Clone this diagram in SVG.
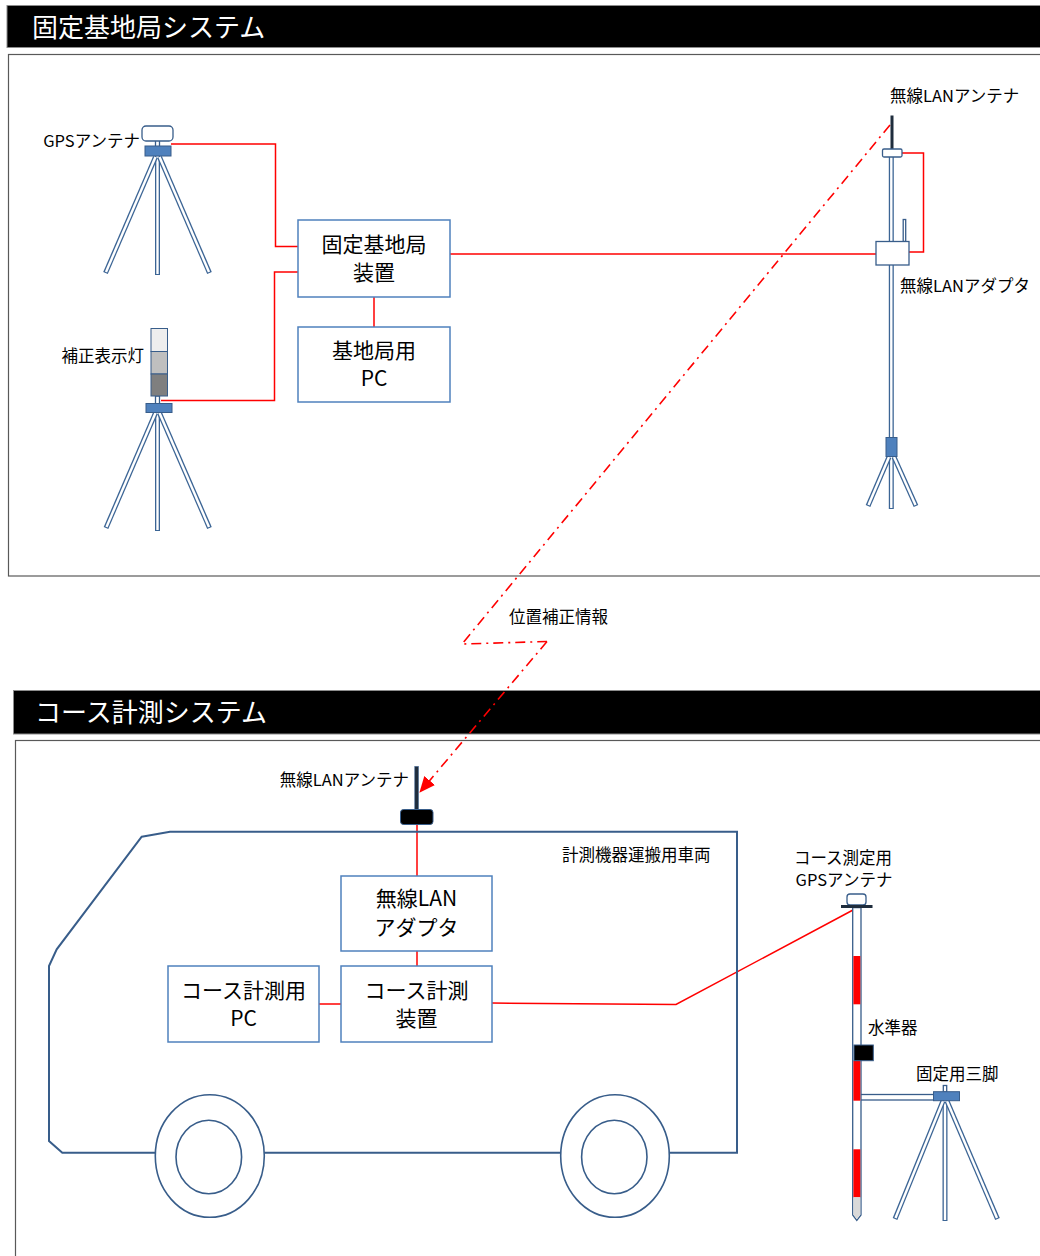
<svg xmlns="http://www.w3.org/2000/svg" width="1040" height="1256" viewBox="0 0 1040 1256">
  <defs>
    <style>
      text { font-family: "Noto Sans CJK JP", "Liberation Sans", sans-serif; fill: #000; }
      .hdr { fill: #000; stroke: #8c8c8c; stroke-width: 1; }
      .hdr-t { fill: #fff; font-size: 26px; }
      .frame { fill: none; stroke: #595959; stroke-width: 1.2; }
      .box { fill: #fff; stroke: #4f81bd; stroke-width: 1.5; }
      .box-t { font-size: 21px; text-anchor: middle; }
      .lbl { font-size: 16.5px; }
      .wire { fill: none; stroke: #ff0000; stroke-width: 1.5; }
      .radio { fill: none; stroke: #ff0000; stroke-width: 1.6; stroke-dasharray: 10 5 2 5; }
      .leg-o { stroke: #3c6595; stroke-width: 5; fill: none; }
      .leg-i { stroke: #fff; stroke-width: 2.4; fill: none; }
      .plate { fill: #4f81bd; stroke: #385d8a; stroke-width: 1; }
      .part { fill: #fff; stroke: #385d8a; stroke-width: 1.3; }
      .van { fill: none; stroke: #385d8a; stroke-width: 2; }
      .wheel { fill: #fff; stroke: #385d8a; stroke-width: 1.6; }
    </style>
    <marker id="arrowRed" viewBox="0 0 16 14" refX="15" refY="7" markerWidth="16" markerHeight="14" markerUnits="userSpaceOnUse" orient="auto">
      <path d="M0,0 L16,7 L0,14 Z" fill="#ff0000"/>
    </marker>
  </defs>

  <!-- ===== Fixed base station section ===== -->
  <g id="header-base">
    <rect class="hdr" x="7" y="5.5" width="1040" height="42"/>
    <text class="hdr-t" x="32" y="37">固定基地局システム</text>
  </g>
  <rect id="frame-base" class="frame" x="8.5" y="54.5" width="1040" height="521.5"/>

  <!-- ===== Course measurement section ===== -->
  <g id="header-course">
    <rect class="hdr" x="13.5" y="690.5" width="1040" height="43.5"/>
    <text class="hdr-t" x="35" y="722">コース計測システム</text>
  </g>
  <rect id="frame-course" class="frame" x="15.5" y="740.5" width="1040" height="600"/>

  <!-- ===== Connectors ===== -->
  <g id="connectors">
    <!-- GPS antenna -> base station unit -->
    <polyline class="wire" points="171,144 275.5,144 275.5,246.5 298,246.5"/>
    <!-- correction lamp -> base station unit -->
    <polyline class="wire" points="161,400.5 274.5,400.5 274.5,272 298,272"/>
    <!-- base station unit -> base PC -->
    <line class="wire" x1="374" y1="297" x2="374" y2="327"/>
    <!-- base station unit -> wireless LAN adapter -->
    <line class="wire" x1="450" y1="254" x2="876" y2="254"/>
    <!-- wireless LAN antenna -> adapter -->
    <polyline class="wire" points="902,153 923.5,153 923.5,252 909,252"/>
    <!-- vehicle antenna -> wireless LAN adapter -->
    <line class="wire" x1="417" y1="824" x2="417" y2="876"/>
    <!-- adapter -> measurement unit -->
    <line class="wire" x1="417" y1="951" x2="417" y2="966"/>
    <!-- PC -> measurement unit -->
    <line class="wire" x1="319" y1="1004" x2="341" y2="1004"/>
    <!-- measurement unit -> course GPS antenna -->
    <polyline class="wire" points="492,1003 676,1004.5 853,910"/>
    <!-- radio link: position correction data -->
    <polyline class="radio" points="890,125 462,644 547,641.5"/>
    <line class="radio" x1="547" y1="641.5" x2="420" y2="792" marker-end="url(#arrowRed)"/>
  </g>

  <!-- ===== Base station equipment ===== -->
  <g id="gps-antenna-tripod">
    <line class="leg-o" x1="157.5" y1="156" x2="157.5" y2="275"/>
    <line class="leg-i" x1="157.5" y1="156" x2="157.5" y2="274"/>
    <line class="leg-o" x1="155.5" y1="157" x2="105.5" y2="273"/>
    <line class="leg-i" x1="155.5" y1="157" x2="106" y2="272"/>
    <line class="leg-o" x1="159.5" y1="157" x2="209.5" y2="273"/>
    <line class="leg-i" x1="159.5" y1="157" x2="209" y2="272"/>
    <rect class="part" x="155.5" y="140" width="4" height="7"/>
    <rect class="part" x="142" y="126" width="31" height="15" rx="4"/>
    <rect class="plate" x="145" y="146" width="26" height="10"/>
    <text class="lbl" x="140" y="147" text-anchor="end">GPSアンテナ</text>
  </g>

  <g id="correction-lamp-tripod">
    <line class="leg-o" x1="157.5" y1="412" x2="157.5" y2="531"/>
    <line class="leg-i" x1="157.5" y1="412" x2="157.5" y2="530"/>
    <line class="leg-o" x1="155.5" y1="413" x2="106" y2="528"/>
    <line class="leg-i" x1="155.5" y1="413" x2="106.5" y2="527"/>
    <line class="leg-o" x1="159.5" y1="413" x2="209.5" y2="528"/>
    <line class="leg-i" x1="159.5" y1="413" x2="209" y2="527"/>
    <rect class="part" x="155.5" y="396" width="4" height="8"/>
    <rect x="151" y="328.5" width="16.5" height="23" fill="#eeeeee" stroke="#385d8a" stroke-width="1"/>
    <rect x="151" y="351.5" width="16.5" height="22.5" fill="#bfbfbf" stroke="#385d8a" stroke-width="1"/>
    <rect x="151" y="374" width="16.5" height="22" fill="#7f7f7f" stroke="#385d8a" stroke-width="1"/>
    <rect class="plate" x="146" y="403.5" width="26" height="9"/>
    <text class="lbl" x="144" y="362" text-anchor="end">補正表示灯</text>
  </g>

  <g id="base-station-unit">
    <rect class="box" x="298" y="220" width="152" height="77"/>
    <text class="box-t" x="374" y="252">固定基地局</text>
    <text class="box-t" x="374" y="280">装置</text>
  </g>

  <g id="base-pc">
    <rect class="box" x="298" y="327" width="152" height="75"/>
    <text class="box-t" x="374" y="358">基地局用</text>
    <text class="box-t" x="374" y="386">PC</text>
  </g>

  <g id="wireless-lan-mast">
    <!-- mast -->
    <line class="leg-o" x1="891.3" y1="157" x2="891.3" y2="438"/>
    <line class="leg-i" x1="891.3" y1="157" x2="891.3" y2="438"/>
    <!-- tripod -->
    <line class="leg-o" x1="891.3" y1="456" x2="891.3" y2="509"/>
    <line class="leg-i" x1="891.3" y1="456" x2="891.3" y2="508"/>
    <line class="leg-o" x1="889" y1="457" x2="868" y2="506"/>
    <line class="leg-i" x1="889" y1="457" x2="868.5" y2="505"/>
    <line class="leg-o" x1="894" y1="457" x2="916" y2="506"/>
    <line class="leg-i" x1="894" y1="457" x2="915.5" y2="505"/>
    <rect class="plate" x="886" y="437.5" width="11" height="19"/>
    <!-- antenna -->
    <rect x="890.5" y="115.5" width="3" height="34" fill="#1f2d3d"/>
    <rect class="part" x="882.5" y="149" width="19.5" height="8" rx="1.5"/>
    <text class="lbl" x="890" y="102">無線LANアンテナ</text>
  </g>

  <g id="wireless-lan-adapter">
    <rect class="part" x="903.2" y="219.5" width="2.5" height="22"/>
    <rect class="part" x="876" y="241.5" width="33" height="23.5"/>
    <text class="lbl" x="900" y="292">無線LANアダプタ</text>
  </g>

  <!-- ===== Course measurement equipment ===== -->
  <g id="vehicle">
    <path class="van" d="M141.7,836.7 L170,831.7 L737,831.7 L737,1152.7 L62.3,1152.7 L49,1141 L49,966 L56.7,949.3 Z"/>
    <ellipse class="wheel" cx="209.8" cy="1156" rx="54.5" ry="61.3"/>
    <ellipse class="wheel" cx="208.8" cy="1157" rx="32.8" ry="36.8"/>
    <ellipse class="wheel" cx="615" cy="1156" rx="54.3" ry="61.3"/>
    <ellipse class="wheel" cx="614.3" cy="1157" rx="32.7" ry="36.8"/>
    <text class="lbl" x="562" y="861">計測機器運搬用車両</text>
  </g>

  <g id="vehicle-antenna">
    <rect x="414.8" y="766.5" width="3.6" height="44" fill="#1f2d3d" stroke="#385d8a" stroke-width="0.6"/>
    <rect x="400.5" y="809.5" width="32.5" height="15" rx="3" fill="#000" stroke="#385d8a" stroke-width="1"/>
    <text class="lbl" x="409" y="786" text-anchor="end">無線LANアンテナ</text>
  </g>

  <g id="vehicle-lan-adapter">
    <rect class="box" x="341" y="876" width="151" height="75"/>
    <text class="box-t" x="416.5" y="906">無線LAN</text>
    <text class="box-t" x="416.5" y="935">アダプタ</text>
  </g>

  <g id="course-pc">
    <rect class="box" x="168" y="966" width="151" height="76"/>
    <text class="box-t" x="243.5" y="998">コース計測用</text>
    <text class="box-t" x="243.5" y="1026">PC</text>
  </g>

  <g id="course-unit">
    <rect class="box" x="341" y="966" width="151" height="76"/>
    <text class="box-t" x="416.5" y="998">コース計測</text>
    <text class="box-t" x="416.5" y="1026">装置</text>
  </g>

  <g id="fixing-tripod">
    <line class="leg-o" x1="945" y1="1100" x2="945" y2="1221"/>
    <line class="leg-i" x1="945" y1="1100" x2="945" y2="1220"/>
    <line class="leg-o" x1="943" y1="1101" x2="895" y2="1219"/>
    <line class="leg-i" x1="943" y1="1101" x2="895.5" y2="1218"/>
    <line class="leg-o" x1="947" y1="1101" x2="997.5" y2="1219"/>
    <line class="leg-i" x1="947" y1="1101" x2="997" y2="1218"/>
    <!-- arm to the pole -->
    <rect class="part" x="860" y="1094.5" width="74" height="5.5"/>
    <rect class="part" x="943.3" y="1085.5" width="3.4" height="6.5"/>
    <rect class="plate" x="933.5" y="1091.7" width="26" height="9"/>
    <text class="lbl" x="916" y="1080">固定用三脚</text>
  </g>

  <g id="course-gps-pole">
    <path class="part" d="M852.7,907.5 L861,907.5 L861,1215 L856.8,1220.5 L852.7,1215 Z"/>
    <rect x="853.4" y="956" width="6.9" height="48.3" fill="#ff0000"/>
    <rect x="853.4" y="1060.7" width="6.9" height="40" fill="#ff0000"/>
    <rect x="853.4" y="1149.3" width="6.9" height="48" fill="#ff0000"/>
    <path d="M853.4,1197.3 L860.3,1197.3 L860.3,1214.6 L856.8,1219.3 L853.4,1214.6 Z" fill="#d9d9d9"/>
    <rect x="847" y="894" width="19" height="11" rx="3" class="part"/>
    <rect x="841" y="905" width="31.5" height="3" fill="#1f2d3d"/>
    <text class="lbl" x="843" y="864" text-anchor="middle">コース測定用</text>
    <text class="lbl" x="844" y="886" text-anchor="middle">GPSアンテナ</text>
  </g>

  <g id="level-gauge">
    <rect x="854" y="1045" width="19.3" height="15.7" fill="#000" stroke="#385d8a" stroke-width="1"/>
    <text class="lbl" x="868" y="1034">水準器</text>
  </g>

  <g id="radio-label">
    <text class="lbl" x="509" y="623">位置補正情報</text>
  </g>
</svg>
